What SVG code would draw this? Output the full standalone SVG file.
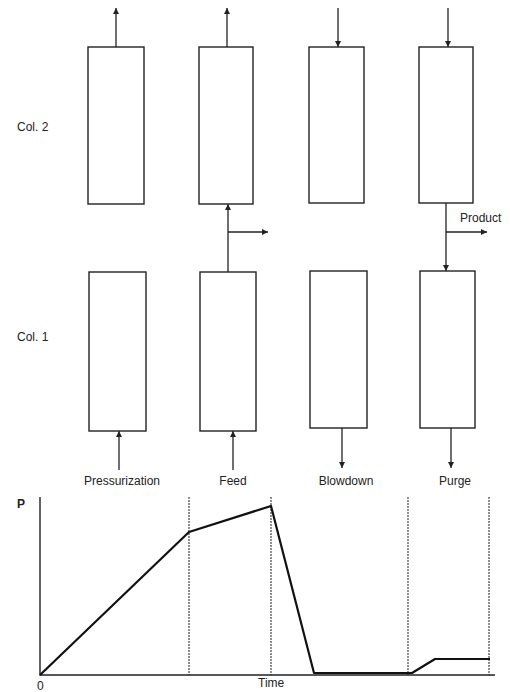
<svg xmlns="http://www.w3.org/2000/svg" width="510" height="692" viewBox="0 0 510 692">
<style>
.col{fill:#fff;stroke:#222;stroke-width:1.4}
.ln{fill:none;stroke:#222;stroke-width:1.3}
.t{font-family:"Liberation Sans",Arial,sans-serif;font-size:12px;fill:#222}
.ax{fill:none;stroke:#222;stroke-width:1.4}
.dv{fill:none;stroke:#333;stroke-width:1.1;stroke-dasharray:2 1}
.cv{fill:none;stroke:#111;stroke-width:2.2;stroke-linejoin:round}
</style>
<defs>
<marker id="ah" viewBox="0 0 10 10" refX="10" refY="5" markerWidth="6" markerHeight="6" markerUnits="userSpaceOnUse" orient="auto">
<path d="M0,0 L10,5 L0,10 z" fill="#222"/>
</marker>
</defs>
<rect width="510" height="692" fill="#fff"/>
<g id="col2-pressurization"><rect class="col" x="88" y="47" width="56" height="157"/></g>
<g id="col2-feed"><rect class="col" x="199" y="47" width="54" height="157"/></g>
<g id="col2-blowdown"><rect class="col" x="309" y="47" width="55" height="156"/></g>
<g id="col2-purge"><rect class="col" x="419" y="47" width="54" height="156"/></g>
<g id="col1-pressurization"><rect class="col" x="89" y="272" width="57" height="159"/></g>
<g id="col1-feed"><rect class="col" x="200" y="272" width="56" height="159"/></g>
<g id="col1-blowdown"><rect class="col" x="310" y="271" width="57" height="157"/></g>
<g id="col1-purge"><rect class="col" x="420" y="271" width="55" height="157"/></g>
<g id="connectors">
<line class="ln" x1="116" y1="47" x2="116" y2="8" marker-end="url(#ah)"/>
<line class="ln" x1="227" y1="47" x2="227" y2="8" marker-end="url(#ah)"/>
<line class="ln" x1="338" y1="8" x2="338" y2="47" marker-end="url(#ah)"/>
<line class="ln" x1="448" y1="8" x2="448" y2="47" marker-end="url(#ah)"/>
<line class="ln" x1="228" y1="272" x2="228" y2="204" marker-end="url(#ah)"/>
<line class="ln" x1="228" y1="232" x2="268" y2="232" marker-end="url(#ah)"/>
<line class="ln" x1="446" y1="203" x2="446" y2="271" marker-end="url(#ah)"/>
<line class="ln" x1="446" y1="232" x2="487" y2="232" marker-end="url(#ah)"/>
<line class="ln" x1="119" y1="470" x2="119" y2="431" marker-end="url(#ah)"/>
<line class="ln" x1="233" y1="470" x2="233" y2="431" marker-end="url(#ah)"/>
<line class="ln" x1="342" y1="428" x2="342" y2="468" marker-end="url(#ah)"/>
<line class="ln" x1="451" y1="428" x2="451" y2="468" marker-end="url(#ah)"/>
</g>
<g id="labels">
<text class="t" x="17" y="131">Col. 2</text>
<text class="t" x="17" y="341">Col. 1</text>
<text class="t" x="460" y="222">Product</text>
<text class="t" x="122" y="485" text-anchor="middle">Pressurization</text>
<text class="t" x="233" y="485" text-anchor="middle">Feed</text>
<text class="t" x="346" y="485" text-anchor="middle">Blowdown</text>
<text class="t" x="455" y="485" text-anchor="middle">Purge</text>
</g>
<g id="graph">
<line class="dv" x1="189" y1="497" x2="189" y2="675"/>
<line class="dv" x1="271" y1="497" x2="271" y2="675"/>
<line class="dv" x1="408" y1="497" x2="408" y2="675"/>
<line class="dv" x1="489" y1="497" x2="489" y2="675"/>
<polyline class="ax" points="40,497 40,675 495,675"/>
<polyline class="cv" points="40,675 189,532 271,506 314,673 412,673 435,659 490,659"/>
<text class="t" x="17" y="508" font-weight="bold">P</text>
<text class="t" x="37" y="690">0</text>
<text class="t" x="258" y="687">Time</text>
</g>
</svg>
